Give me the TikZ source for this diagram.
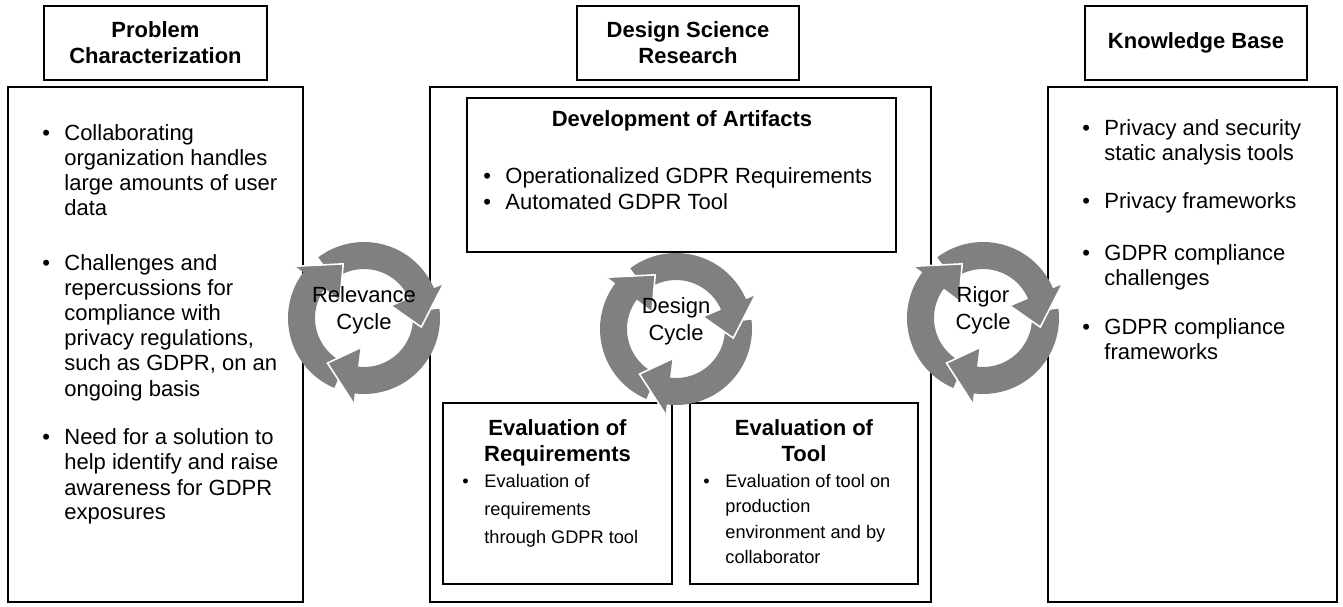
\documentclass[tikz,border=0pt]{standalone}
\usepackage{fontspec}
\setmainfont{Liberation Sans}

\definecolor{ringgray}{RGB}{128,128,128}
\tikzset{
%Box styles
titlebox/.style={draw, line width=0.7pt, align=center, inner sep=0pt, minimum height=37pt, font=\fontsize{11}{13}\selectfont\bfseries},
bigbox/.style={draw, line width=0.7pt, inner sep=0pt},
%Text styles
listtext/.style={anchor=base west, inner sep=0pt, font=\fontsize{11}{12.5}\selectfont},
smalltext/.style={anchor=base west, inner sep=0pt},
headtext/.style={anchor=base, inner sep=0pt, font=\fontsize{11}{13}\selectfont\bfseries},
cyclelabel/.style={align=center, inner sep=0pt, font=\fontsize{11}{13.5}\selectfont},
}

% bulleted list: bullet column, then text column
\newcommand{\gdprlist}[1]{\begin{tabular}[t]{@{}p{11pt}@{}l@{}}#1\end{tabular}}
% title lines, centred
\newcommand{\gdprhead}[1]{\begin{tabular}[t]{@{}c@{}}#1\end{tabular}}

% ring of three arrows round (#2,#3), label #4
\newcommand{\gdprcycle}[4]{%
  \begin{scope}[shift={(#2,#3)}]
    % arrow bodies
    \foreach \ang in {-97,23,143}{
      \pgfmathsetmacro{\ctail}{\ang+104}
      \pgfmathsetmacro{\cend}{\ang-1}
      \fill[ringgray] (\ctail:76) arc[start angle=\ctail, end angle=\cend, radius=38pt]
        -- (\cend:49) arc[start angle=\cend, end angle=\ctail, radius=24.5pt] -- cycle;
    }
    % arrow heads
    \foreach \ang in {-97,23,143}{
      \pgfmathsetmacro{\ctip}{\ang-32}
      \fill[ringgray] (\ang:86) -- (\ctip:58) -- (\ang:30) -- cycle;
      \draw[white, line width=0.8pt, line join=miter] (\ang:86) -- (\ctip:58) -- (\ang:30);
    }
  \end{scope}
  \node[cyclelabel] (#1) at (#2,#3+8) {#4};
}

\begin{document}
\begin{tikzpicture}[x=0.5pt, y=0.5pt]
    \useasboundingbox (0,0) rectangle (1343,606);

    % Titles
    \node[titlebox, minimum width=111.5pt] (probtitle) at (155.5,563) {Problem\\Characterization};
    \node[titlebox, minimum width=111pt] (dsrtitle) at (688,563) {Design Science\\Research};
    \node[titlebox, minimum width=111pt] (kbtitle) at (1196,563) {Knowledge Base};

    % Big boxes
    \node[bigbox, minimum width=147.5pt, minimum height=257.5pt] (probbox) at (155.5,261.5) {};
    \node[bigbox, minimum width=250.5pt, minimum height=257.5pt] (dsrbox) at (680.5,261.5) {};
    \node[bigbox, minimum width=144.5pt, minimum height=257.5pt] (kbbox) at (1192.5,261.5) {};

    % Boxes inside design science research
    \node[bigbox, minimum width=214.5pt, minimum height=77pt] (devbox) at (681.5,431) {};
    \node[bigbox, minimum width=114.5pt, minimum height=90.5pt] (evreqbox) at (557.5,112.5) {};
    \node[bigbox, minimum width=114pt, minimum height=90.5pt] (evtoolbox) at (804,112.5) {};

    % Problem characterization
    \node[listtext] (problist) at (42,465) {\gdprlist{%
      \textbullet & Collaborating\\ & organization handles\\ & large amounts of user\\ & data\\[15pt]
      \textbullet & Challenges and\\ & repercussions for\\ & compliance with\\ & privacy regulations,\\ & such as GDPR, on an\\ & ongoing basis\\[12pt]
      \textbullet & Need for a solution to\\ & help identify and raise\\ & awareness for GDPR\\ & exposures}};

    % Knowledge base
    \node[listtext] (kblist) at (1082,470) {\gdprlist{%
      \textbullet & Privacy and security\\ & static analysis tools\\[11.5pt]
      \textbullet & Privacy frameworks\\[13.5pt]
      \textbullet & GDPR compliance\\ & challenges\\[12pt]
      \textbullet & GDPR compliance\\ & frameworks}};

    % Development of artifacts
    \node[headtext] (devtitle) at (682,479) {Development of Artifacts};
    \node[listtext, font=\fontsize{11}{13}\selectfont] (devlist) at (483,422) {\gdprlist{%
      \textbullet & Operationalized GDPR Requirements\\
      \textbullet & Automated GDPR Tool}};

    % Evaluations
    \node[headtext] (evreqtitle) at (557.5,171) {\gdprhead{Evaluation of\\Requirements}};
    \node[smalltext, font=\fontsize{9.1}{14.2}\selectfont] (evreqlist) at (462,119) {\gdprlist{%
      \textbullet & Evaluation of\\ & requirements\\ & through GDPR tool}};
    \node[headtext] (evtooltitle) at (804,171) {\gdprhead{Evaluation of\\Tool}};
    \node[smalltext, font=\fontsize{9.1}{12.8}\selectfont] (evtoollist) at (703,119) {\gdprlist{%
      \textbullet & Evaluation of tool on\\ & production\\ & environment and by\\ & collaborator}};

    % Cycles
    \gdprcycle{relcycle}{364}{288}{Relevance\\Cycle}
    \gdprcycle{descycle}{676}{277}{Design\\Cycle}
    \gdprcycle{rigcycle}{983}{288}{Rigor\\Cycle}
\end{tikzpicture}
\end{document}
